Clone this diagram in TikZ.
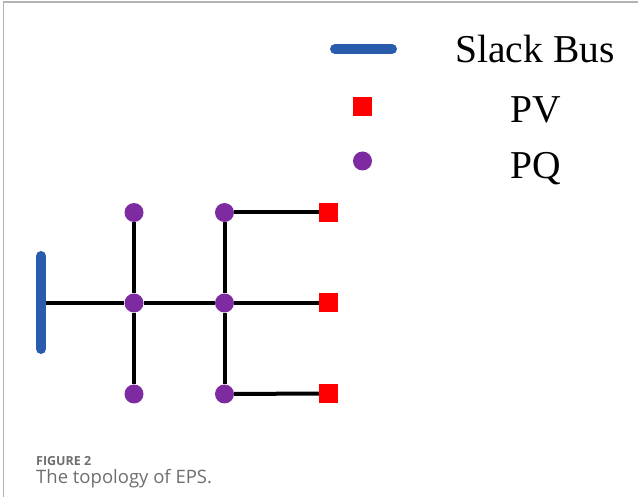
\documentclass[tikz,border=0pt]{standalone}
\usepackage{fontspec}
\usepackage{xcolor}
\setmainfont{Liberation Serif}
\newfontfamily\capfont{Open Sans}
\usetikzlibrary{positioning}
\definecolor{slackblue}{HTML}{2A5CAD}
\definecolor{pqpurple}{HTML}{7E2BA1}
\definecolor{pvred}{HTML}{FF0000}
\definecolor{framegray}{HTML}{B4B4B4}
\definecolor{captiongray}{HTML}{6E6E6E}

\begin{document}
\begin{tikzpicture}[
  x=1pt,y=-1pt,
  pqbus/.style={circle,fill=pqpurple,minimum size=19pt,inner sep=0pt},
  pvbus/.style={rectangle,fill=pvred,minimum size=19pt,inner sep=0pt},
  slackbar/.style={slackblue,line width=10pt,line cap=round},
  branch/.style={black,line width=4pt},
  legendtext/.style={font=\fontsize{39.5}{42}\selectfont,anchor=base}
]
  \useasboundingbox (0,0) rectangle (638,497);
  % frame
  \draw[framegray,line width=1.5pt] (3.5,497) -- (3.5,2) -- (638,2);

  % legend
  \coordinate (legslackL) at (335,49);
  \coordinate (legslackR) at (392,49);
  \draw[slackbar] (legslackL) -- (legslackR);
  \node[pvbus] (legpv) at (362.5,107) {};
  \node[pqbus] (legpq) at (362.5,161) {};
  \node[legendtext] (txtslack) at (535,62.5) {Slack Bus};
  \node[legendtext] (txtpv) at (536,123) {PV};
  \node[legendtext] (txtpq) at (536,179) {PQ};

  % buses
  \coordinate (slacktop) at (41,256);
  \coordinate (slackbot) at (41,349);
  \coordinate (slack) at (41,303);
  \node[pqbus] (t1) at (134,212.5) {};
  \node[pqbus] (m1) at (134,303) {};
  \node[pqbus] (b1) at (134,394) {};
  \node[pqbus] (t2) at (224.5,212.5) {};
  \node[pqbus] (m2) at (224.5,303) {};
  \node[pqbus] (b2) at (224.5,394) {};
  \node[pvbus] (pv1) at (328.5,212.5) {};
  \node[pvbus] (pv2) at (328.5,303) {};
  \node[pvbus] (pv3) at (328.5,393.5) {};

  % lines
  \draw[branch] (slack) -- (m1);
  \draw[branch] (m1) -- (m2);
  \draw[branch] (m2) -- (pv2);
  \draw[branch] (t1) -- (m1);
  \draw[branch] (m1) -- (b1);
  \draw[branch] (t2) -- (m2);
  \draw[branch] (m2) -- (b2);
  \draw[branch] (t2) -- (pv1);
  \draw[branch] (b2) -- (pv3);
  \draw[slackbar] (slacktop) -- (slackbot);

  % caption
  \node[anchor=base west,inner sep=0pt,text=captiongray,font=\capfont\bfseries\fontsize{12.5}{15}\selectfont]
    (capnum) at (36,465) {FIGURE 2};
  \node[anchor=base west,inner sep=0pt,text=captiongray,font=\capfont\fontsize{18.5}{22}\selectfont]
    (captext) at (36,483) {The topology of EPS.};
\end{tikzpicture}
\end{document}
